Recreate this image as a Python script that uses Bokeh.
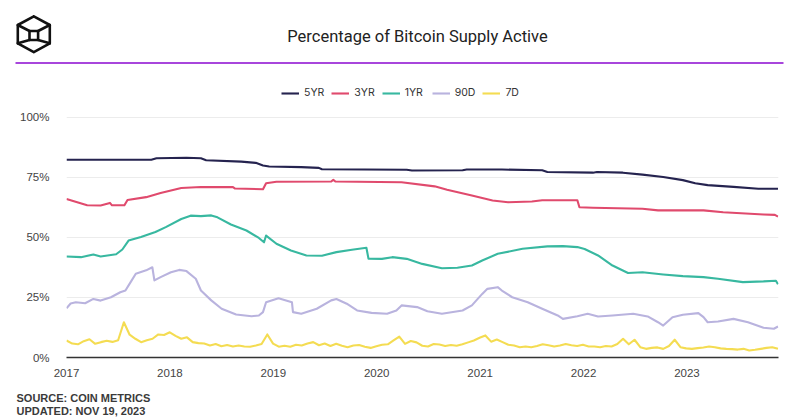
import numpy as np
from bokeh.plotting import figure
from bokeh.models import (Range1d, FixedTicker, Legend, LegendItem, Label,
                          ColumnDataSource, NumeralTickFormatter, PrintfTickFormatter)
from bokeh.layouts import column
from bokeh.embed import file_html
from bokeh.resources import INLINE

TITLE = "Percentage of Bitcoin Supply Active"
SOURCE_LINES = ["SOURCE: COIN METRICS", "UPDATED: NOV 19, 2023"]
SERIES = ["5YR", "3YR", "1YR", "90D", "7D"]
COLORS = ["#25234f", "#e04a6d", "#38b8a0", "#b9b3de", "#f4dc52"]
YEAR_TICKS = [2017, 2018, 2019, 2020, 2021, 2022, 2023]
PCT_TICKS = [0, 25, 50, 75, 100]
START, END = 2017.0, 2023.885

T_5YR = [2017.00, 2017.82, 2017.87, 2018.16, 2018.30, 2018.35, 2018.69, 2018.83, 2018.90, 2018.96,
         2019.27, 2019.44, 2019.47, 2020.29, 2020.34, 2020.83, 2020.87, 2021.21, 2021.60, 2021.65,
         2022.09, 2022.13, 2022.38, 2022.57, 2022.77, 2022.96, 2023.08, 2023.20, 2023.45, 2023.69,
         2023.88]
V_5YR = [82.4, 82.4, 83.0, 83.2, 83.0, 82.2, 81.6, 81.1, 80.0, 79.6,
         79.3, 79.0, 78.4, 78.2, 77.9, 78.0, 78.3, 78.3, 78.0, 77.3,
         77.0, 77.3, 77.0, 76.2, 75.2, 73.9, 72.6, 71.8, 71.1, 70.3,
         70.3]

T_3YR = [2017.00, 2017.20, 2017.33, 2017.42, 2017.44, 2017.56, 2017.59, 2017.77, 2017.91, 2018.11,
         2018.30, 2018.61, 2018.63, 2018.90, 2018.93, 2019.03, 2019.56, 2019.58, 2019.60, 2020.24,
         2020.56, 2020.68, 2020.92, 2021.12, 2021.27, 2021.50, 2021.60, 2021.94, 2021.96, 2022.09,
         2022.57, 2022.72, 2023.16, 2023.35, 2023.74, 2023.85, 2023.88]
V_3YR = [66.0, 63.4, 63.3, 64.4, 63.4, 63.4, 65.6, 66.8, 68.5, 70.6,
         71.0, 71.0, 70.4, 70.1, 72.6, 73.2, 73.3, 74.0, 73.3, 73.0,
         71.3, 69.9, 67.5, 65.4, 64.7, 65.0, 65.5, 65.5, 62.6, 62.4,
         62.0, 61.3, 61.3, 60.5, 59.6, 59.4, 58.7]

T_1YR = [2017.00, 2017.14, 2017.26, 2017.33, 2017.48, 2017.54, 2017.60, 2017.72, 2017.86, 2017.96,
         2018.11, 2018.20, 2018.30, 2018.40, 2018.46, 2018.59, 2018.74, 2018.86, 2018.91, 2018.93,
         2019.03, 2019.17, 2019.32, 2019.47, 2019.61, 2019.76, 2019.90, 2019.92, 2020.05, 2020.15,
         2020.29, 2020.44, 2020.63, 2020.78, 2020.92, 2021.02, 2021.17, 2021.41, 2021.65, 2021.80,
         2021.94, 2022.01, 2022.14, 2022.28, 2022.43, 2022.57, 2022.77, 2022.96, 2023.16, 2023.30,
         2023.54, 2023.74, 2023.86, 2023.88]
V_1YR = [42.1, 41.8, 42.9, 42.1, 43.0, 45.0, 48.7, 50.2, 52.3, 54.3,
         57.7, 59.1, 58.9, 59.2, 58.4, 55.4, 52.9, 49.8, 48.0, 50.8,
         47.4, 44.6, 42.5, 42.4, 43.9, 44.9, 45.7, 41.2, 41.1, 41.8,
         41.1, 39.0, 37.2, 37.4, 38.3, 40.4, 43.2, 45.3, 46.3, 46.4,
         46.0, 45.2, 42.5, 38.3, 35.2, 35.5, 34.6, 33.9, 33.5, 32.8,
         31.4, 31.7, 32.0, 30.5]

T_90D = [2017.00, 2017.04, 2017.09, 2017.18, 2017.26, 2017.33, 2017.43, 2017.52, 2017.57, 2017.62,
         2017.67, 2017.77, 2017.83, 2017.85, 2017.91, 2018.01, 2018.09, 2018.16, 2018.25, 2018.30,
         2018.40, 2018.50, 2018.64, 2018.79, 2018.86, 2018.90, 2018.93, 2019.05, 2019.18, 2019.19,
         2019.27, 2019.42, 2019.56, 2019.61, 2019.71, 2019.81, 2019.95, 2020.10, 2020.19, 2020.24,
         2020.39, 2020.49, 2020.63, 2020.83, 2020.92, 2021.02, 2021.07, 2021.17, 2021.21, 2021.31,
         2021.46, 2021.60, 2021.75, 2021.80, 2021.94, 2022.04, 2022.14, 2022.28, 2022.48, 2022.62,
         2022.72, 2022.77, 2022.86, 2022.96, 2023.11, 2023.16, 2023.20, 2023.30, 2023.45, 2023.59,
         2023.74, 2023.84, 2023.88]
V_90D = [20.5, 22.5, 23.0, 22.6, 24.4, 23.7, 25.1, 27.2, 27.9, 31.4,
         34.9, 36.3, 37.6, 32.1, 33.5, 35.5, 36.5, 36.0, 32.8, 27.9,
         23.8, 20.3, 17.9, 17.2, 17.5, 18.9, 23.0, 24.7, 23.0, 18.9,
         18.2, 20.3, 23.8, 24.4, 22.4, 19.6, 18.6, 18.2, 19.6, 21.7,
         21.0, 19.3, 18.2, 19.6, 21.7, 26.5, 28.6, 29.3, 27.9, 25.1,
         23.0, 20.3, 17.5, 16.1, 17.2, 18.2, 17.1, 17.5, 18.2, 17.1,
         14.7, 13.3, 16.8, 17.8, 18.5, 16.8, 14.7, 15.0, 16.1, 14.7,
         12.4, 12.0, 12.9]

V_7D = [7.1, 5.8, 5.5, 6.8, 7.6, 5.7, 6.4, 7.0, 6.5, 7.2,
        14.7, 9.5, 7.8, 6.4, 7.2, 7.8, 9.6, 9.4, 10.5, 9.0,
        7.8, 8.4, 6.4, 6.0, 5.8, 5.0, 5.6, 4.7, 5.2, 4.6,
        5.0, 4.6, 4.5, 5.0, 5.6, 9.6, 5.8, 4.5, 4.9, 4.5,
        5.3, 5.0, 5.8, 6.4, 5.1, 5.8, 4.8, 5.7, 4.9, 4.3,
        5.0, 5.2, 4.5, 4.0, 4.7, 5.3, 5.5, 7.1, 8.7, 5.7,
        6.9, 6.3, 4.9, 4.6, 5.6, 5.4, 4.8, 5.2, 4.9, 5.5,
        6.3, 7.1, 8.2, 9.2, 6.6, 7.5, 6.4, 5.3, 5.0, 4.3,
        4.6, 4.3, 4.8, 5.5, 5.1, 4.6, 5.0, 5.6, 5.1, 4.8,
        5.3, 4.6, 4.6, 4.3, 4.8, 4.6, 5.6, 7.8, 5.5, 7.4,
        4.3, 3.6, 4.0, 4.2, 3.6, 4.8, 7.4, 4.3, 3.8, 3.6,
        3.9, 4.2, 4.6, 4.3, 3.8, 3.6, 3.5, 3.3, 3.6, 2.9,
        3.2, 3.6, 4.0, 4.3, 3.6]
T_7D = np.linspace(START, 2023.88, len(V_7D))

DATA = [(T_5YR, V_5YR), (T_3YR, V_3YR), (T_1YR, V_1YR), (T_90D, V_90D), (T_7D, V_7D)]


def blank(h):
    f = figure(width=800, height=h, x_range=Range1d(0, 800), y_range=Range1d(h, 0),
               toolbar_location=None, output_backend="svg", min_border=0,
               x_axis_location=None, y_axis_location=None)
    f.grid.visible = False
    f.outline_line_color = None
    f.frame_align = False
    return f


# ---------------- header (logo, title, rule) ----------------
header = blank(70)
logo_xs = [[33.3, 49.3, 49.3, 33.3, 17.3, 17.3, 33.3],
           [29.0, 37.6, 37.6, 29.0, 29.0],
           [17.3, 29.0], [49.3, 37.6], [17.3, 29.0], [49.3, 37.6]]
logo_ys = [[15.8, 24.5, 42.8, 51.6, 42.8, 24.5, 15.8],
           [30.5, 30.5, 39.5, 39.5, 30.5],
           [24.5, 30.5], [24.5, 30.5], [42.8, 39.5], [42.8, 39.5]]
header.multi_line(logo_xs, logo_ys, line_color="#111111", line_width=2.6,
                  line_join="round", line_cap="round")
header.add_layout(Label(x=417, y=36, text=TITLE, text_align="center", text_baseline="middle",
                        text_font="Roboto", text_font_size="16.5px", text_color="#222222"))
header.segment(x0=[15], y0=[62.5], x1=[783], y1=[62.5], line_color="#a846dc", line_width=1.8)

# ---------------- main chart ----------------
TOP_PAD = 115.4  # frame extends above 100% to hold the legend
p = figure(width=800, height=317, x_range=Range1d(START, END), y_range=Range1d(0, TOP_PAD),
           toolbar_location=None, output_backend="svg",
           min_border_left=66, min_border_right=22, min_border_top=10, min_border_bottom=30)
p.frame_align = False
p.outline_line_color = None
p.xgrid.visible = False
p.ygrid.grid_line_color = "#ececec"
p.ygrid.grid_line_width = 1
p.ygrid.ticker = FixedTicker(ticks=PCT_TICKS)

p.yaxis.ticker = FixedTicker(ticks=PCT_TICKS)
p.yaxis.formatter = PrintfTickFormatter(format="%d%%")
p.yaxis.axis_line_color = None
p.yaxis.major_tick_line_color = None
p.yaxis.minor_tick_line_color = None
p.yaxis.major_label_standoff = 11
p.yaxis.major_label_text_font = "Liberation Sans"
p.yaxis.major_label_text_font_size = "11.5px"
p.yaxis.major_label_text_color = "#444444"

p.xaxis.ticker = FixedTicker(ticks=YEAR_TICKS)
p.xaxis.formatter = NumeralTickFormatter(format="0")
p.xaxis.axis_line_color = "#333333"
p.xaxis.axis_line_width = 1.5
p.xaxis.major_tick_line_color = None
p.xaxis.minor_tick_line_color = None
p.xaxis.major_label_standoff = 5
p.xaxis.major_label_text_font = "Liberation Sans"
p.xaxis.major_label_text_font_size = "11.5px"
p.xaxis.major_label_text_color = "#444444"

items = []
for name, color, (t, v) in zip(SERIES, COLORS, DATA):
    src = ColumnDataSource(dict(x=list(t), y=list(v)))
    r = p.line("x", "y", source=src, line_color=color, line_width=2.1, line_join="round")
    items.append(LegendItem(label=name, renderers=[r]))

legend = Legend(items=items, orientation="horizontal", location=(215, 258),
                glyph_width=18, glyph_height=12, label_height=12, label_standoff=5, spacing=7,
                padding=0, margin=0, border_line_alpha=0, background_fill_alpha=0,
                label_text_font="Inter", label_text_font_size="10.5px", label_text_color="#333333")
p.add_layout(legend, "center")

# ---------------- footer (source) ----------------
footer = blank(32)
for i, line in enumerate(SOURCE_LINES):
    footer.add_layout(Label(x=16, y=10.5 + 12.5 * i, text=line,
                            text_font="Liberation Sans", text_font_style="bold", text_font_size="11px",
                            text_color="#3a3a3a", text_baseline="alphabetic"))

layout = column(header, p, footer, spacing=0)
open("out.html", "w").write(file_html(layout, INLINE))
